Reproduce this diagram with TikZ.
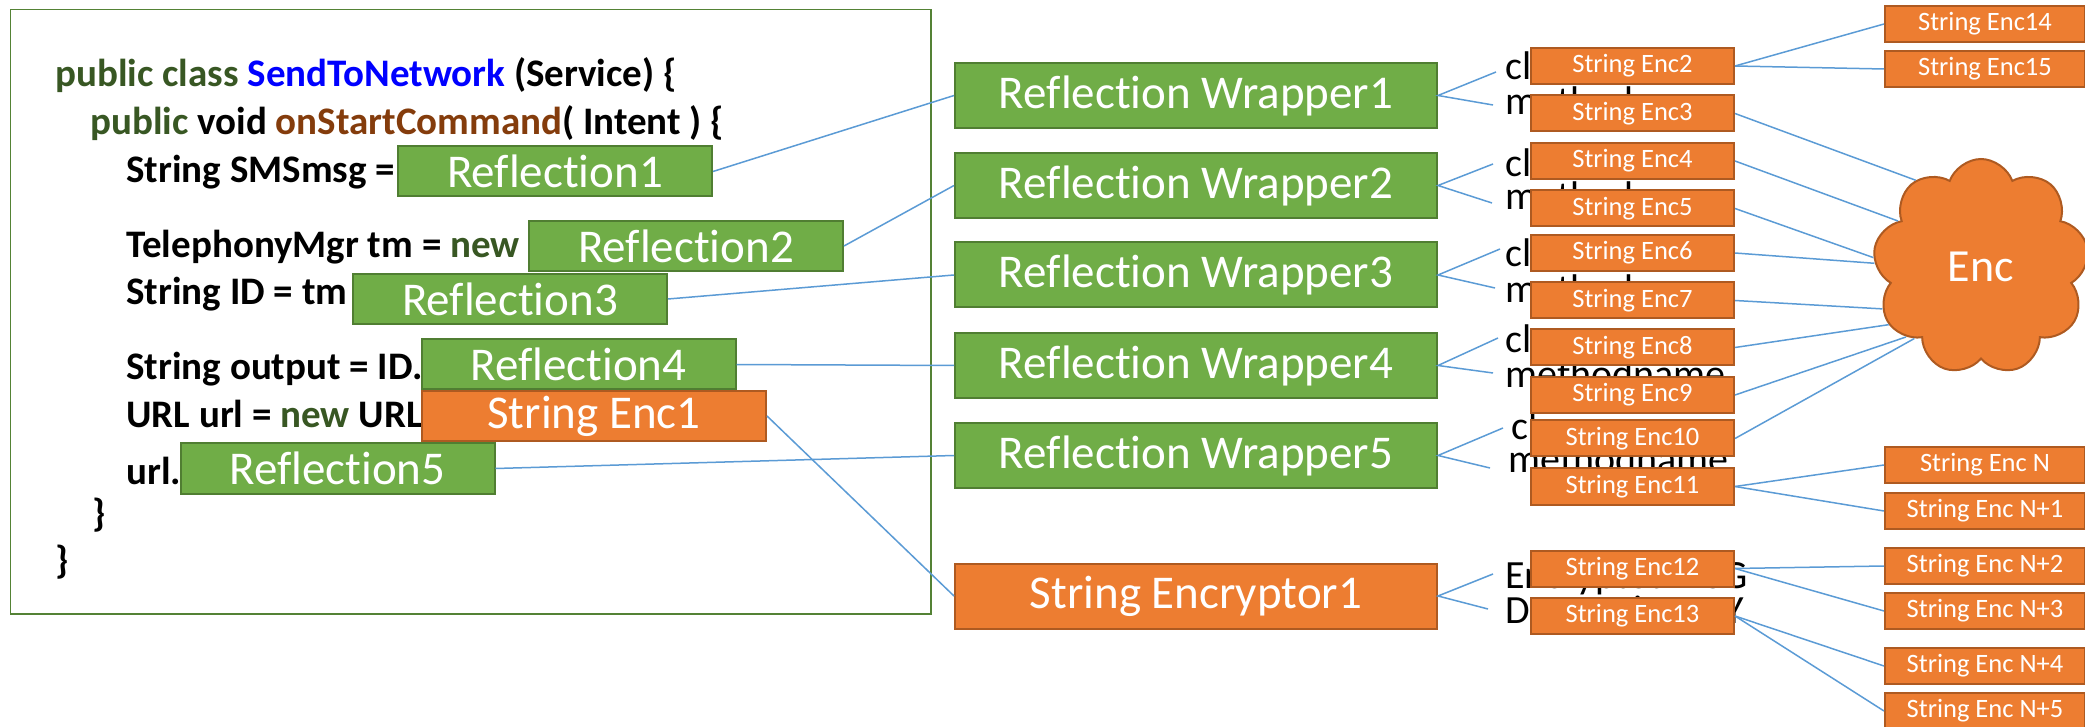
\documentclass[tikz,border=0pt]{standalone}
\usepackage{fontspec}
\setmainfont{Carlito}[Ligatures=CommonOff]
\usetikzlibrary{shapes.symbols}
\definecolor{gfill}{HTML}{70AD47}
\definecolor{gline}{HTML}{507E32}
\definecolor{ofill}{HTML}{ED7D31}
\definecolor{oline}{HTML}{AE5A21}
\definecolor{connblue}{HTML}{5B9BD5}
\definecolor{kwgreen}{HTML}{385723}
\definecolor{kwbrown}{HTML}{843C0C}
\definecolor{kwblue}{HTML}{0000FF}
\definecolor{framegreen}{HTML}{548235}
\begin{document}
\begin{tikzpicture}[x=0.5pt,y=-0.5pt,
  codetxt/.style={anchor=base west, inner sep=0pt, font=\fontsize{19.5pt}{23pt}\selectfont\bfseries},
  bigbox/.style={draw=gline, fill=gfill, line width=1pt, text=white, inner sep=0pt, font=\fontsize{23.5pt}{28pt}\selectfont, minimum height=25pt},
  greenbox/.style={bigbox},
  orangebox/.style={bigbox, draw=oline, fill=ofill},
  wrapbox/.style={minimum width=241pt, minimum height=32.5pt},
  smallbox/.style={draw=oline, fill=ofill, line width=1pt, text=white, inner sep=0pt, font=\fontsize{13.25pt}{16pt}\selectfont, minimum width=101.5pt, minimum height=18pt},
  rightbox/.style={smallbox, minimum width=100pt},
  lbl/.style={anchor=base west, inner sep=0pt, font=\fontsize{20pt}{24pt}\selectfont},
  link/.style={draw=connblue, line width=0.75pt}
]
\useasboundingbox (0,0) rectangle (2085,727);

% code frame
\node[draw=framegreen, line width=0.75pt, fill=white, inner sep=0pt,
      minimum width=460.2pt, minimum height=302.4pt] (code) at (470.8,311.7) {};

% code lines
\node[codetxt] (c1) at (55,87) {{\color{kwgreen}public class} {\color{kwblue}SendToNetwork} (Service) \{};
\node[codetxt] (c2) at (90,135) {{\color{kwgreen}public} void {\color{kwbrown}onStartCommand}( Intent ) \{};
\node[codetxt] (c3) at (126,183) {String SMSmsg =};
\node[codetxt] (c4) at (126,258) {TelephonyMgr tm = {\color{kwgreen}new}};
\node[codetxt] (c5) at (126,305) {String ID = tm};
\node[codetxt] (c6) at (126,380) {String output = ID.};
\node[codetxt] (c7) at (126,428) {URL url = {\color{kwgreen}new} URL};
\node[codetxt] (c8) at (126,484) {url.};
\node[codetxt] (c9) at (92,526) {\}};
\node[codetxt] (c10) at (55,574) {\}};

% boxes inside code
\node[greenbox, minimum width=157pt] (r1) at (555,171.5) {Reflection1};
\node[greenbox, minimum width=157pt] (r2) at (686,246) {Reflection2};
\node[greenbox, minimum width=157pt] (r3) at (510,299) {Reflection3};
\node[greenbox, minimum width=157pt] (r4) at (578.5,364.5) {Reflection4};
\node[orangebox, minimum width=172pt] (e1) at (594,416) {String Enc1};
\node[greenbox, minimum width=157pt] (r5) at (337.5,468.5) {Reflection5};

% wrappers
\node[greenbox, wrapbox] (w1) at (1196,95.5) {Reflection Wrapper1};
\node[greenbox, wrapbox] (w2) at (1196,185.5) {Reflection Wrapper2};
\node[greenbox, wrapbox] (w3) at (1196,275) {Reflection Wrapper3};
\node[greenbox, wrapbox] (w4) at (1196,365.5) {Reflection Wrapper4};
\node[greenbox, wrapbox] (w5) at (1196,455.5) {Reflection Wrapper5};
\node[orangebox, wrapbox] (se) at (1196,596) {String Encryptor1};

% code -> wrappers
\draw[link] (r1.east) -- (w1.west);
\draw[link] (r2.east) -- (w2.west);
\draw[link] (r3.east) -- (w3.west);
\draw[link] (r4.east) -- (w4.west);
\draw[link] (r5.east) -- (w5.west);
\draw[link] (e1.east) -- (se.west);

% labels
\node[lbl] (l1a) at (1505,80) {classname};
\node[lbl] (l1b) at (1505,115) {methodname};
\node[lbl] (l2a) at (1505,177) {classname};
\node[lbl] (l2b) at (1505,210) {methodname};
\node[lbl] (l3a) at (1505,267) {classname};
\node[lbl] (l3b) at (1505,303) {methodname};
\node[lbl] (l4a) at (1505,353) {classname};
\node[lbl] (l4b) at (1505,388) {methodname};
\node[lbl] (l5a) at (1511,440) {classname};
\node[lbl] (l5b) at (1508,473) {methodname};
\node[lbl] (l6a) at (1505,588) {EncryptedMSG};
\node[lbl] (l6b) at (1505,623) {DecryptionKEY};

% wrapper -> label connectors
\coordinate (p1a) at (1496,72);  \coordinate (p1b) at (1493,105);
\coordinate (p2a) at (1493,164); \coordinate (p2b) at (1492,203);
\coordinate (p3a) at (1500,249); \coordinate (p3b) at (1495,288);
\coordinate (p4a) at (1498,338); \coordinate (p4b) at (1493,373);
\coordinate (p5a) at (1503,428); \coordinate (p5b) at (1490,468);
\coordinate (p6a) at (1493,574); \coordinate (p6b) at (1488,609);
\draw[link] (p1a) -- (w1.east) -- (p1b);
\draw[link] (p2a) -- (w2.east) -- (p2b);
\draw[link] (p3a) -- (w3.east) -- (p3b);
\draw[link] (p4a) -- (w4.east) -- (p4b);
\draw[link] (p5a) -- (w5.east) -- (p5b);
\draw[link] (p6a) -- (se.east) -- (p6b);

% small boxes
\node[smallbox] (s2) at (1632.5,66) {String Enc2};
\node[smallbox] (s3) at (1632.5,113.5) {String Enc3};
\node[smallbox] (s4) at (1632.5,161) {String Enc4};
\node[smallbox] (s5) at (1632.5,208.5) {String Enc5};
\node[smallbox] (s6) at (1632.5,253) {String Enc6};
\node[smallbox] (s7) at (1632.5,300.5) {String Enc7};
\node[smallbox] (s8) at (1632.5,347.5) {String Enc8};
\node[smallbox] (s9) at (1632.5,395) {String Enc9};
\node[smallbox] (s10) at (1632.5,438.5) {String Enc10};
\node[smallbox] (s11) at (1632.5,486.5) {String Enc11};
\node[smallbox] (s12) at (1632.5,568.5) {String Enc12};
\node[smallbox] (s13) at (1632.5,616) {String Enc13};

% right boxes
\node[rightbox] (t14) at (1985,24) {String Enc14};
\node[rightbox] (t15) at (1985,69) {String Enc15};
\node[rightbox] (tn0) at (1985,465) {String Enc N};
\node[rightbox] (tn1) at (1985,511) {String Enc N+1};
\node[rightbox] (tn2) at (1985,566) {String Enc N+2};
\node[rightbox] (tn3) at (1985,611) {String Enc N+3};
\node[rightbox] (tn4) at (1985,666) {String Enc N+4};
\node[rightbox] (tn5) at (1985,711) {String Enc N+5};

% cloud
\node[cloud, cloud puffs=9, cloud puff arc=140, aspect=1, draw=oline, fill=ofill,
      line width=1pt, text=white, inner sep=0pt, minimum width=108pt, minimum height=108pt,
      font=\fontsize{23pt}{28pt}\selectfont] (enc) at (1981,267) {Enc};

% connectors right side
\draw[link] (s2.east) -- (t14.west);
\draw[link] (s2.east) -- (t15.west);
\draw[link] (s3.east) -- (enc.127);
\draw[link] (s4.east) -- (enc.151);
\draw[link] (s5.east) -- (enc.175);
\draw[link] (s6.east) -- (enc.178);
\draw[link] (s7.east) -- (enc.203);
\draw[link] (s8.east) -- (enc.212);
\draw[link] (s9.east) -- (enc.223);
\draw[link] (s10.east) -- (enc.227);
\draw[link] (s11.east) -- (tn0.west);
\draw[link] (s11.east) -- (tn1.west);
\draw[link] (s12.east) -- (tn2.west);
\draw[link] (s12.east) -- (tn3.west);
\draw[link] (s13.east) -- (tn4.west);
\draw[link] (s13.east) -- (tn5.west);
\end{tikzpicture}
\end{document}
